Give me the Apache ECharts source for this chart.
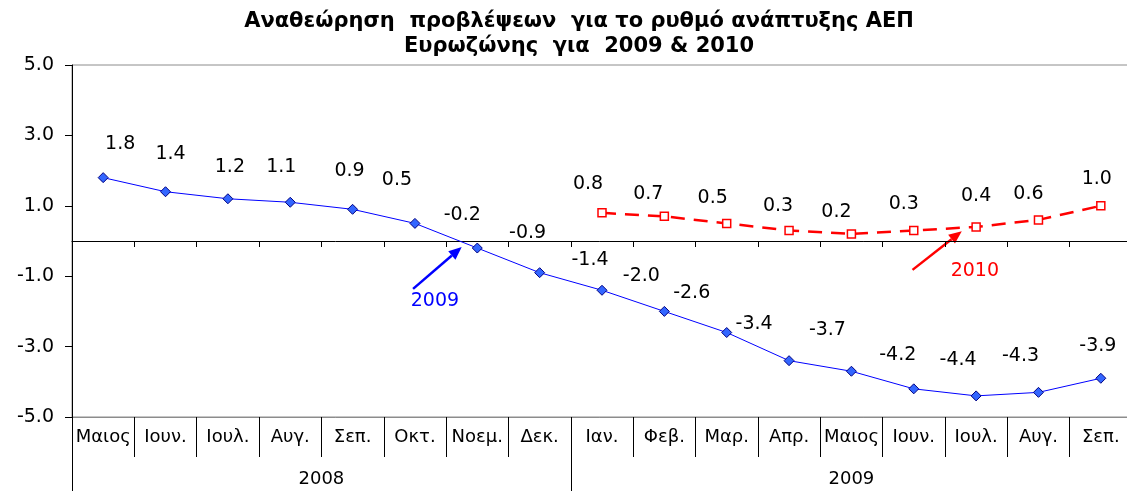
<!DOCTYPE html>
<html>
<head>
<meta charset="utf-8">
<script src="https://cdn.jsdelivr.net/npm/echarts@6/dist/echarts.min.js"></script>
<style>
  html, body { margin: 0; padding: 0; background: #fff; }
  #main { width: 1127px; height: 491px; }
</style>
</head>
<body>
<div id="main"></div>
<script>
// κατηγορίες (μήνες) και έτη
var months = ['Μαιος', 'Ιουν.', 'Ιουλ.', 'Αυγ.', 'Σεπ.', 'Οκτ.', 'Νοεμ.', 'Δεκ.',
              'Ιαν.', 'Φεβ.', 'Μαρ.', 'Απρ.', 'Μαιος', 'Ιουν.', 'Ιουλ.', 'Αυγ.', 'Σεπ.'];
var years = ['2008', '2009'];
var yearSpans = [8, 9];

// προβλέψεις για το 2009 και το 2010
var forecast2009 = [1.8, 1.4, 1.2, 1.1, 0.9, 0.5, -0.2, -0.9, -1.4, -2.0, -2.6, -3.4, -3.7, -4.2, -4.4, -4.3, -3.9];
var forecast2010 = ['-', '-', '-', '-', '-', '-', '-', '-', 0.8, 0.7, 0.5, 0.3, 0.2, 0.3, 0.4, 0.6, 1.0];

var yTicks = [-5, -3, -1, 1, 3, 5];

// θέση ετικετών (μετατόπιση σε px, όπως στο excel)
var dx2009 = [17, 5, 2, -9, -3, -18, -15, -12, -12, -23, -35, -35, -24, -16, -18, -18, -3];
var dy2009 = [-34, -38, -32, -35, -38, -43, -33, -40, -30, -35, -39, -37, -41, -34, -36, -36, -32];
var dx2010 = [0, 0, 0, 0, 0, 0, 0, 0, -14, -16, -14, -11, -15, -10, 0, -10, -4];
var dy2010 = [0, 0, 0, 0, 0, 0, 0, 0, -29, -22, -25, -24, -22, -26, -31, -26, -27];

// βέλη σχολιασμού, σε συντεταγμένες δεδομένων (x: 0..17 πάνω στον άξονα μηνών)
var note2009 = { text: '2009', at: [5.82, -1.7], from: [5.47, -1.36], to: [6.25, -0.17], color: '#0000ff' };
var note2010 = { text: '2010', at: [14.48, -0.85], from: [13.48, -0.82], to: [14.27, 0.28], color: '#ff0000' };

var FONT = 'DejaVu Sans';

var yearEdges = [0];
var yearMids = [];
for (var i = 0; i < yearSpans.length; i++) {
  yearMids.push(yearEdges[i] + yearSpans[i] / 2);
  yearEdges.push(yearEdges[i] + yearSpans[i]);
}

function labelled(values, dx, dy) {
  return values.map(function (v, i) {
    return { value: v, label: { offset: [dx[i], dy[i]] } };
  });
}

var chart = echarts.init(document.getElementById('main'));

var option = {
  animation: false,
  title: {
    text: 'Αναθεώρηση  προβλέψεων  για το ρυθμό ανάπτυξης ΑΕΠ\nΕυρωζώνης  για  2009 & 2010',
    left: 574,
    textAlign: 'center',
    top: 4,
    textStyle: { fontFamily: FONT, fontSize: 21, fontWeight: 'bold', color: '#000', lineHeight: 25 }
  },
  grid: {
    left: 72, top: 65, width: 1060, bottom: 74,
    outerBoundsMode: 'none', containLabel: false,
    show: true, borderColor: '#8c8c8c', borderWidth: 1
  },
  xAxis: [
    {
      // άξονας στο μηδέν, μόνο γραμμή και μικρά τικ
      type: 'category',
      data: months,
      position: 'bottom',
      axisLine: { onZero: true, lineStyle: { color: '#000', width: 1 } },
      axisTick: { show: true, length: 6, interval: 0, lineStyle: { color: '#000' } },
      axisLabel: { show: false },
      splitLine: { show: false }
    },
    {
      type: 'category',
      data: months,
      position: 'bottom',
      axisLine: { onZero: false, lineStyle: { color: '#8c8c8c' } },
      axisTick: { show: true, length: 40, interval: 0, lineStyle: { color: '#000' } },
      axisLabel: { interval: 0, margin: 11, fontFamily: FONT, fontSize: 18, color: '#000' },
      splitLine: { show: false }
    },
    {
      type: 'value',
      min: 0,
      max: 17,
      position: 'bottom',
      offset: 40,
      axisLine: { show: false, onZero: false },
      axisTick: { show: true, customValues: yearEdges, length: 34, lineStyle: { color: '#000' } },
      axisLabel: {
        customValues: yearMids,
        margin: 13,
        fontFamily: FONT, fontSize: 18, color: '#000',
        formatter: function (v) { return years[yearMids.indexOf(v)]; }
      },
      splitLine: { show: false }
    }
  ],
  yAxis: {
    type: 'value',
    min: -5,
    max: 5,
    interval: 2,
    axisLine: { show: true, lineStyle: { color: '#000' } },
    axisTick: { show: true, length: 7, lineStyle: { color: '#000' } },
    axisLabel: {
      margin: 18, fontFamily: FONT, fontSize: 19, color: '#000',
      formatter: function (v) { return v.toFixed(1); }
    },
    splitLine: { show: false }
  },
  series: [
    {
      name: '2009',
      type: 'line',
      data: labelled(forecast2009, dx2009, dy2009),
      symbol: 'diamond',
      symbolSize: 10,
      lineStyle: { color: '#0000ff', width: 1 },
      itemStyle: { color: '#3366ff', borderColor: '#000080', borderWidth: 1 },
      label: {
        show: true, position: 'inside', fontFamily: FONT, fontSize: 19, color: '#000',
        formatter: function (p) { return p.value.toFixed(1); }
      },
      z: 3
    },
    {
      name: '2010',
      type: 'line',
      data: labelled(forecast2010, dx2010, dy2010),
      symbol: 'rect',
      symbolSize: 8,
      lineStyle: { color: '#ff0000', width: 2.5, type: [14, 9] },
      itemStyle: { color: '#ffffff', borderColor: '#ff0000', borderWidth: 1.5 },
      label: {
        show: true, position: 'inside', fontFamily: FONT, fontSize: 19, color: '#000',
        formatter: function (p) { return p.value.toFixed(1); }
      },
      z: 3
    }
  ]
};

chart.setOption(option);

function px(pt) {
  return [
    chart.convertToPixel({ xAxisIndex: 2 }, pt[0]),
    chart.convertToPixel({ yAxisIndex: 0 }, pt[1])
  ];
}

function noteGraphics(n) {
  var a = px(n.from), b = px(n.to), t = px(n.at);
  var ang = Math.atan2(b[1] - a[1], b[0] - a[0]);
  var head = 13, wing = 5.5;
  var bx = b[0] - head * Math.cos(ang), by = b[1] - head * Math.sin(ang);
  return [
    {
      type: 'line',
      shape: { x1: a[0], y1: a[1], x2: bx, y2: by },
      style: { stroke: n.color, lineWidth: 2.5 }
    },
    {
      type: 'polygon',
      shape: { points: [
        [b[0], b[1]],
        [bx - wing * Math.sin(ang), by + wing * Math.cos(ang)],
        [bx + wing * Math.sin(ang), by - wing * Math.cos(ang)]
      ] },
      style: { fill: n.color }
    },
    {
      type: 'text',
      x: t[0], y: t[1],
      style: { text: n.text, fill: n.color, font: '19px "' + FONT + '"', align: 'center', verticalAlign: 'middle' }
    }
  ];
}

chart.setOption({ graphic: noteGraphics(note2009).concat(noteGraphics(note2010)) });
</script>
</body>
</html>
